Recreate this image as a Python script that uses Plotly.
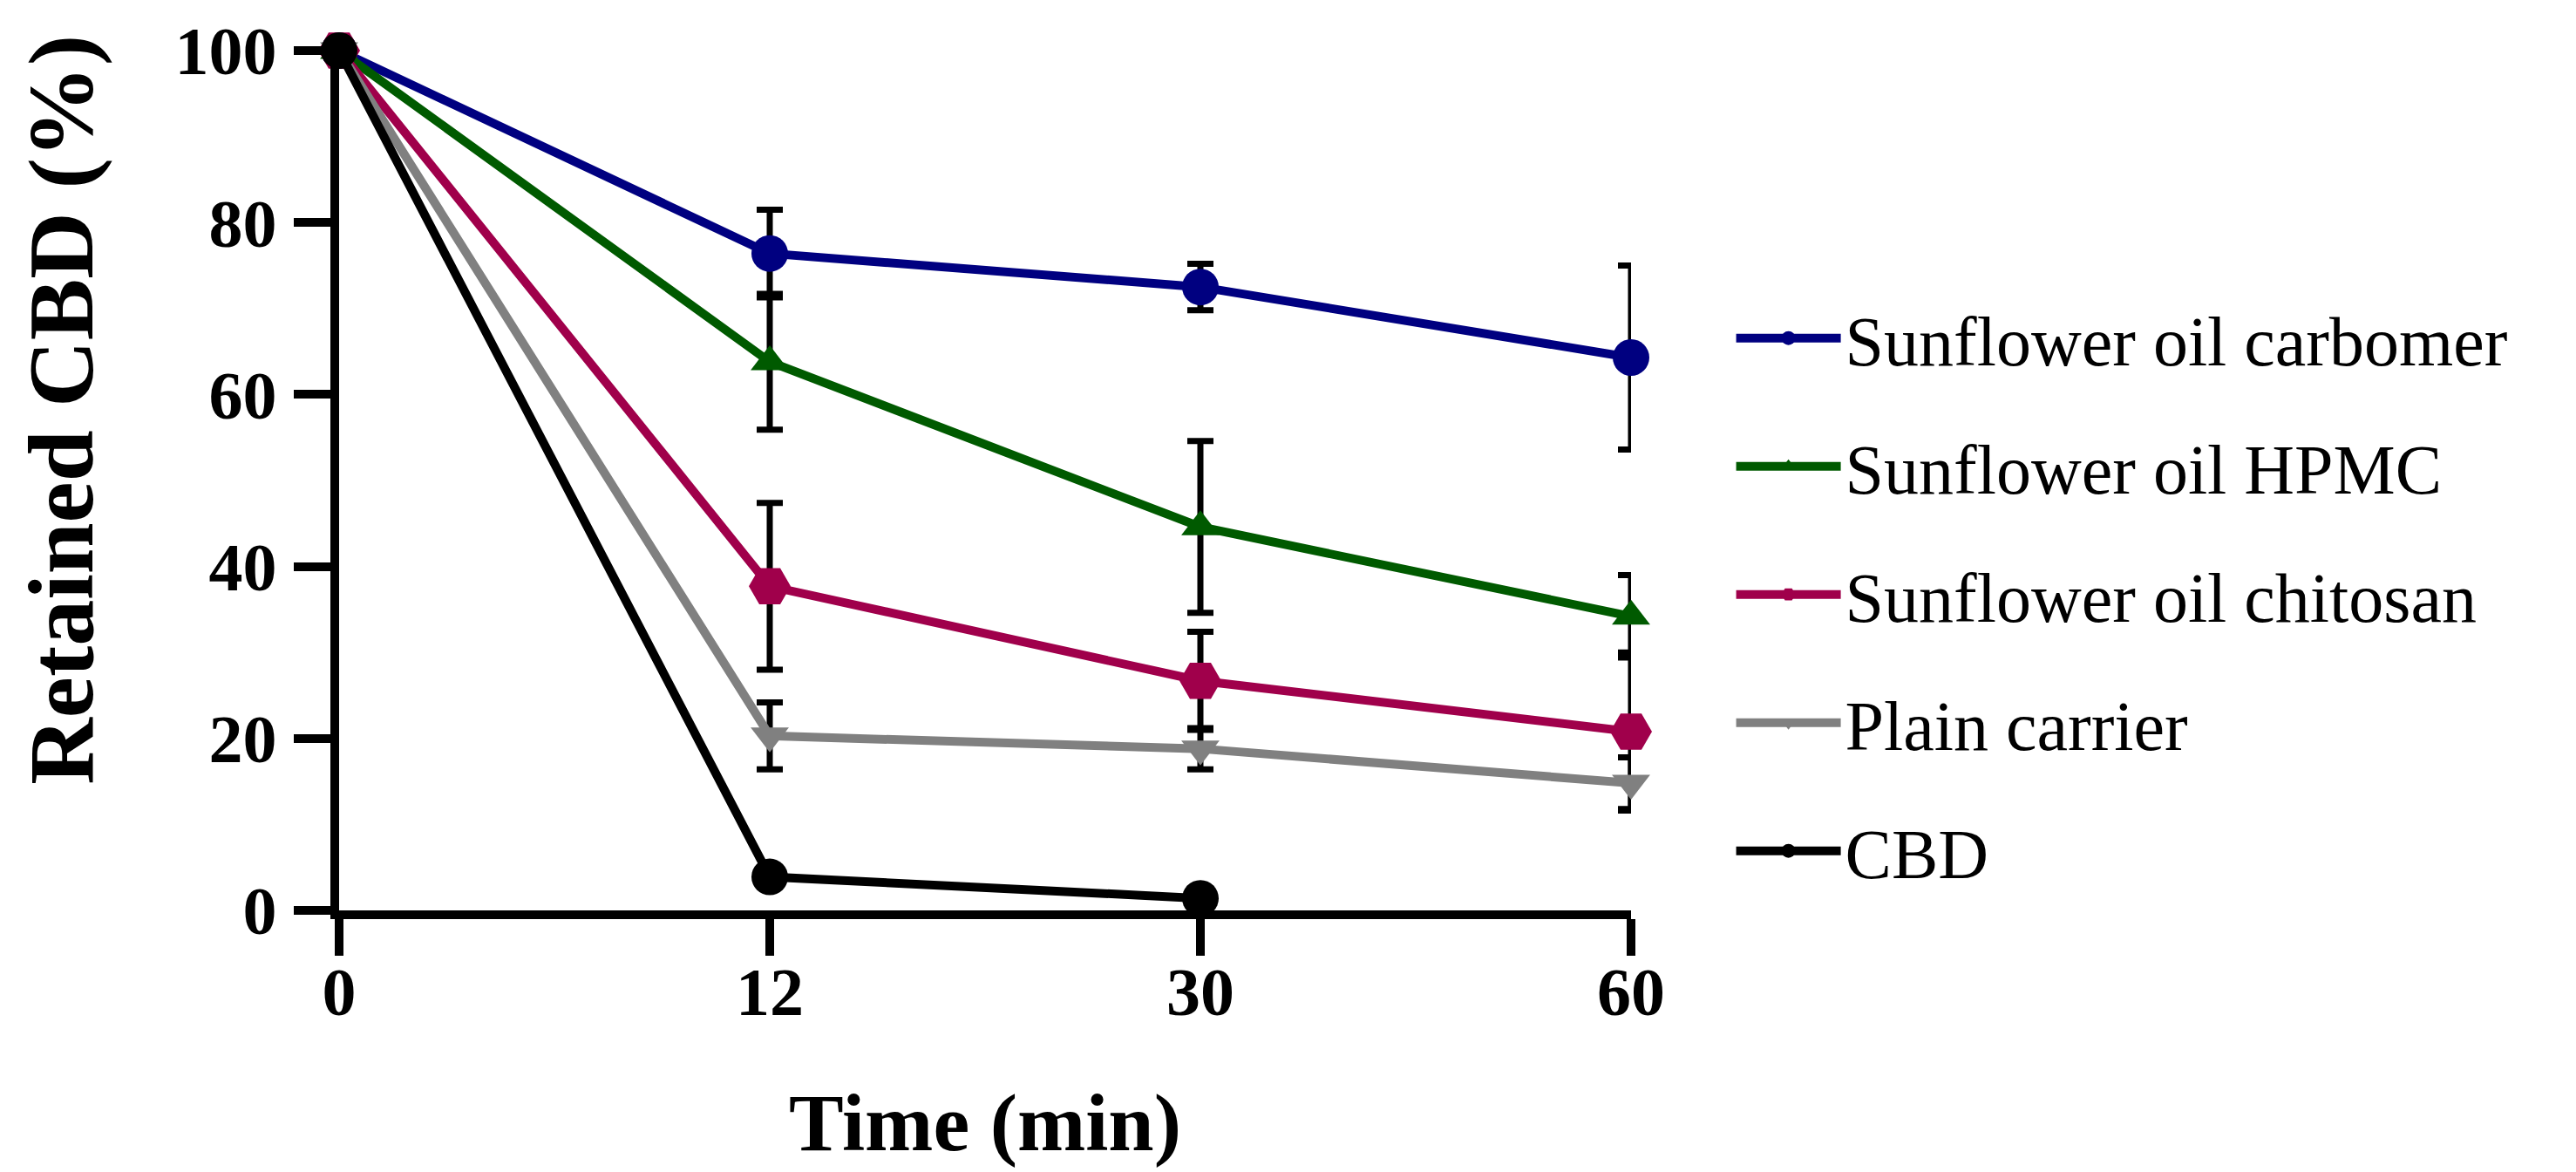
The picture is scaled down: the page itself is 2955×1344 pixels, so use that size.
import plotly.graph_objects as go

# %% Data
time_labels = ["0", "12", "30", "60"]
time_pos = [0, 1, 2, 3]  # categorical spacing

carbomer = [100, 76.4, 72.5, 64.3]
carbomer_err = [0, 5.1, 2.7, 10.7]

hpmc = [100, 63.8, 44.6, 34.2]
hpmc_err = [0, 7.9, 10.0, 4.8]

chitosan = [100, 37.7, 26.7, 20.8]
chitosan_err = [0, 9.7, 5.7, 9.2]

plain = [100, 20.3, 18.8, 14.8]
plain_err = [0, 3.9, 2.4, 3.0]

cbd = [100, 3.9, 1.4, None]

FONT = "Liberation Serif"

series = [
    ("Sunflower oil carbomer", carbomer, carbomer_err, "#000080", "circle", 42),
    ("Sunflower oil HPMC", hpmc, hpmc_err, "#005a00", "triangle-up", 38),
    ("Sunflower oil chitosan", chitosan, chitosan_err, "#a0004b", "hexagon2", 48),
    ("Plain carrier", plain, plain_err, "#808080", "triangle-down", 38),
    ("CBD", cbd, None, "#000000", "circle", 42),
]

# %% Figure
fig = go.Figure()
for name, y, err, color, symbol, size in series:
    fig.add_trace(
        go.Scatter(
            x=time_pos,
            y=y,
            name=name,
            mode="lines+markers",
            line=dict(color=color, width=10),
            marker=dict(color=color, symbol=symbol, size=size, line=dict(width=0)),
            error_y=dict(type="data", array=err, visible=err is not None,
                         color="black", thickness=7, width=15),
            cliponaxis=False,
            legendgroup=name,
        )
    )

tick_font = dict(family=FONT, size=78, color="black", weight="bold")

fig.update_xaxes(
    range=[0, 3],
    tickvals=time_pos,
    ticktext=time_labels,
    showline=True, linecolor="black", linewidth=10,
    ticks="outside", ticklen=42, tickwidth=10, tickcolor="black",
    tickfont=tick_font,
    ticklabelstandoff=-26,
    showgrid=False, zeroline=False,
    automargin=False,
)
fig.update_yaxes(
    range=[0, 100],
    tickvals=[0, 20, 40, 60, 80, 100],
    showline=True, linecolor="black", linewidth=10,
    ticks="outside", ticklen=42, tickwidth=10, tickcolor="black",
    tickfont=tick_font,
    ticklabelstandoff=4,
    showgrid=False, zeroline=False,
    automargin=False,
)

fig.add_annotation(
    text="<b>Retained CBD (%)</b>",
    xref="paper", yref="paper", x=-0.2557, y=0.582,
    xanchor="left", yanchor="middle",
    textangle=-90, showarrow=False,
    font=dict(family=FONT, size=106, color="black"),
)
fig.add_annotation(
    text="<b>Time (min)</b>",
    xref="paper", yref="paper", x=0.5, y=-0.2465,
    xanchor="center", yanchor="middle",
    showarrow=False,
    font=dict(family=FONT, size=94, color="black"),
)

fig.update_layout(
    template="none",
    width=2955,
    height=1344,
    margin=dict(l=381, r=1092, t=50, b=308, autoexpand=False),
    paper_bgcolor="white",
    plot_bgcolor="white",
    showlegend=True,
    legend=dict(
        x=1.078, y=0.725, xanchor="left", yanchor="top",
        font=dict(family=FONT, size=80, color="black"),
        itemwidth=120,
        tracegroupgap=40,
        bgcolor="rgba(0,0,0,0)",
    ),
)

fig.write_html("out.html")
